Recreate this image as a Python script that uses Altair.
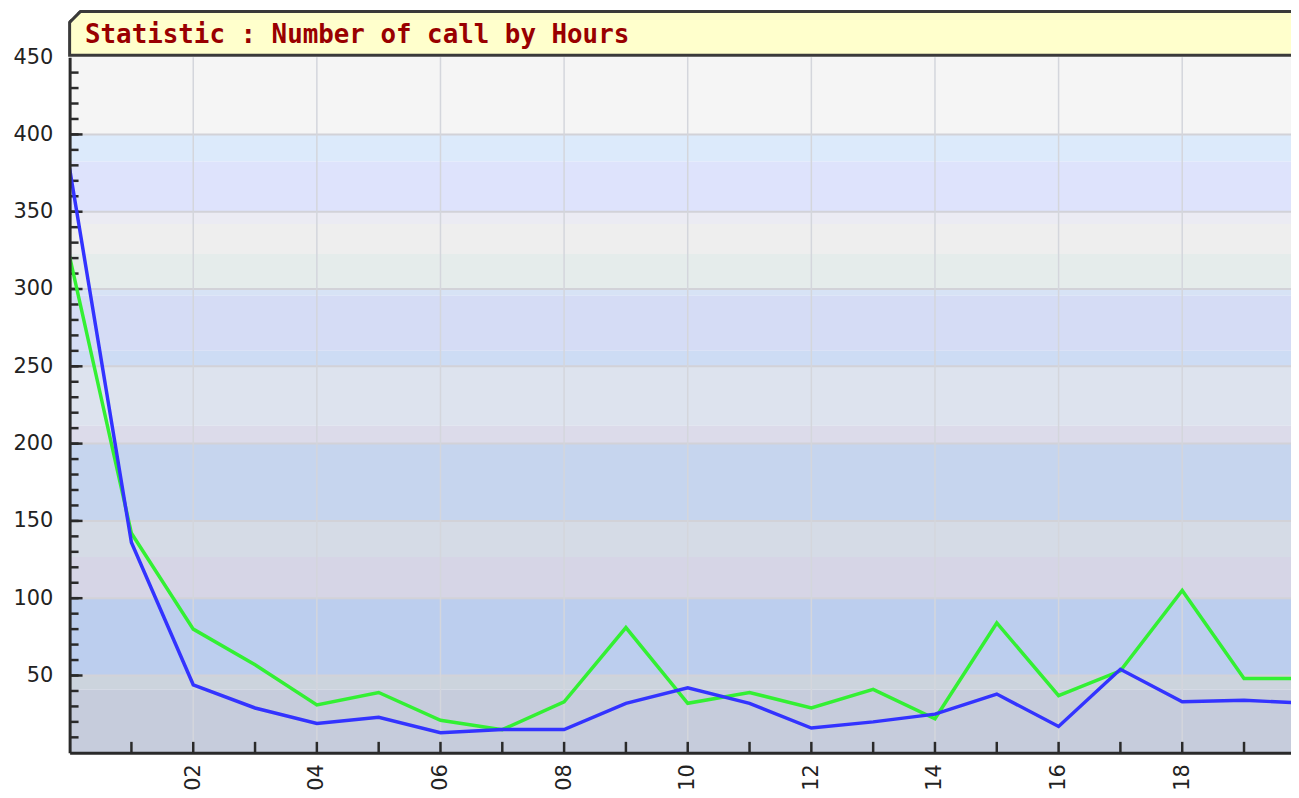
import altair as alt
import pandas as pd

# ---- data ----
hours = list(range(21))
blue_calls = [378, 136, 44, 29, 19, 23, 13, 15, 15, 32, 42, 32, 16, 20, 25, 38, 17, 54, 33, 34, 32]
green_calls = [321, 142, 80, 57, 31, 39, 21, 15, 33, 81, 32, 39, 29, 41, 22, 84, 37, 53, 105, 48, 48]

y_label_values = [50, 100, 150, 200, 250, 300, 350, 400, 450]
x_label_values = [2, 4, 6, 8, 10, 12, 14, 16, 18]
y_minor_values = list(range(10, 450, 10))
x_tick_values = list(range(1, 20))

title_text = "Statistic : Number of call by Hours"

# background bands (value ranges and fills)
band_low = [400, 382.5, 350, 342, 322.7, 300, 295.7, 260, 250, 211.5, 200, 150, 126.6, 100, 50, 41, 0]
band_high = [450, 400, 382.5, 350, 342, 322.7, 300, 295.7, 260, 250, 211.5, 200, 150, 126.6, 100, 50, 41]
band_fill = ["#F5F5F5", "#DCEAFB", "#DEE3FC", "#EBEBF3", "#EEEEEE", "#E5ECEB", "#D7E3F5",
             "#D5DCF5", "#CDDCF4", "#DDE3EE", "#DCDBEA", "#C6D5EE", "#D5DBE6", "#D6D5E6",
             "#BCCEEE", "#CCD4DD", "#C6CCDC"]

# ---- layout ----
W = 1229
H = 700
X_MAX = 19.76
AX = "#2a2a2a"
LABEL_FONT = "DejaVu Sans"

xscale = alt.Scale(domain=[0, X_MAX], nice=False, zero=False)
yscale = alt.Scale(domain=[0, 450], nice=False)

lines_df = pd.DataFrame({
    "hour": hours * 2,
    "calls": blue_calls + green_calls,
    "series": ["blue"] * len(hours) + ["green"] * len(hours),
})
bands_df = pd.DataFrame({"lo": band_low, "hi": band_high, "fill": band_fill})

yaxis = alt.Axis(values=y_label_values, tickSize=0, grid=False, domainColor=AX, domainWidth=3,
                 labelFont=LABEL_FONT, labelFontSize=21, labelColor="#222", labelPadding=17,
                 title=None, zindex=1)
xaxis = alt.Axis(values=x_label_values, tickSize=0, grid=False, domainColor=AX, domainWidth=3,
                 labelFont=LABEL_FONT, labelFontSize=21, labelColor="#222", labelPadding=11,
                 labelAngle=270, labelExpr="datum.value < 10 ? '0' + datum.value : '' + datum.value",
                 title=None, zindex=1)

bands = alt.Chart(bands_df).mark_rect().encode(
    y=alt.Y("lo:Q", scale=yscale, axis=yaxis),
    y2="hi:Q",
    x=alt.value(0),
    x2=alt.value(W),
    color=alt.Color("fill:N", scale=None),
)

hgrid = alt.Chart(pd.DataFrame({"v": y_label_values[:-1]})).mark_rule(
    color="#d2d2d8", strokeWidth=2
).encode(y=alt.Y("v:Q", scale=yscale), x=alt.value(0), x2=alt.value(W))

vgrid = alt.Chart(pd.DataFrame({"h": x_label_values})).mark_rule(
    color="#d4d6dc", strokeWidth=1.5
).encode(x=alt.X("h:Q", scale=xscale), y=alt.value(0), y2=alt.value(H))

ymajor = alt.Chart(pd.DataFrame({"v": y_label_values[:-1]})).mark_rule(
    color=AX, strokeWidth=2.5
).encode(y=alt.Y("v:Q", scale=yscale), x=alt.value(0), x2=alt.value(13))

yminor = alt.Chart(pd.DataFrame({"v": y_minor_values})).mark_rule(
    color=AX, strokeWidth=2.5
).encode(y=alt.Y("v:Q", scale=yscale), x=alt.value(0), x2=alt.value(9))

xticks = alt.Chart(pd.DataFrame({"h": x_tick_values})).mark_rule(
    color=AX, strokeWidth=2.5
).encode(x=alt.X("h:Q", scale=xscale), y=alt.value(H), y2=alt.value(H - 11))

green_line = alt.Chart(lines_df).transform_filter("datum.series == 'green'").mark_line(
    color="#33F033", strokeWidth=3.5, clip=True
).encode(x=alt.X("hour:Q", scale=xscale, axis=xaxis), y=alt.Y("calls:Q", scale=yscale))

blue_line = alt.Chart(lines_df).transform_filter("datum.series == 'blue'").mark_line(
    color="#3333FF", strokeWidth=3.5, clip=True
).encode(x=alt.X("hour:Q", scale=xscale), y=alt.Y("calls:Q", scale=yscale))

title_df = pd.DataFrame({"t": [title_text]})
title_box = alt.Chart(title_df).mark_rect(
    fill="#FFFFCC", stroke="#3a3a3a", strokeWidth=3
).encode(x=alt.value(0), x2=alt.value(W + 20), y=alt.value(-46), y2=alt.value(-2))

corner_cut = alt.Chart(title_df).mark_point(
    shape="M-1,-1L1,-1L-1,1Z", filled=True, fill="white", stroke=None, opacity=1, size=169
).encode(x=alt.value(4.5), y=alt.value(-41.5))

corner_edge = alt.Chart(title_df).mark_rule(color="#3a3a3a", strokeWidth=3).encode(
    x=alt.value(0), y=alt.value(-35), x2=alt.value(11), y2=alt.value(-46)
)

title_mark = alt.Chart(title_df).mark_text(
    align="left", baseline="alphabetic", font="DejaVu Sans Mono", fontWeight="bold",
    fontSize=26, color="#990000"
).encode(text="t:N", x=alt.value(15.5), y=alt.value(-14))

chart = alt.layer(
    bands, hgrid, vgrid, ymajor, yminor, xticks, green_line, blue_line,
    title_box, corner_cut, corner_edge, title_mark,
).properties(
    width=W, height=H,
    autosize=alt.AutoSizeParams(type="none"),
    padding={"left": 62, "top": 47, "right": 0, "bottom": 35},
).configure_view(stroke=None)

chart.save("out.html", embed_options={"renderer": "svg", "actions": False})
